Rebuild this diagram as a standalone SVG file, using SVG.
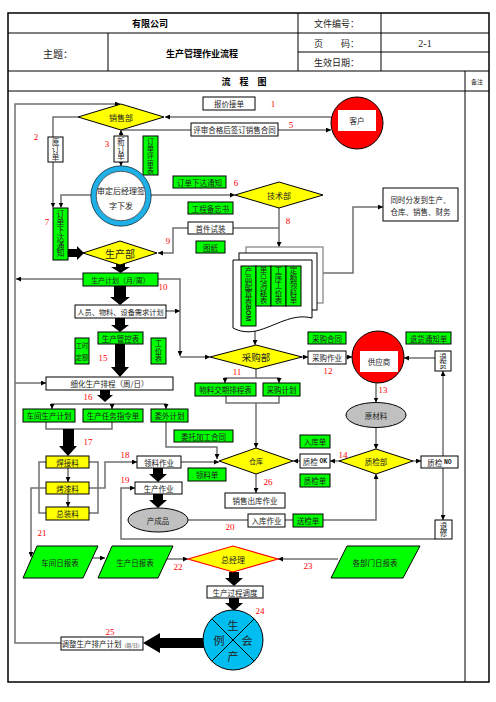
<svg xmlns="http://www.w3.org/2000/svg" width="496" height="702" viewBox="0 0 496 702">
<defs>
<marker id="ah" viewBox="0 0 8 8" refX="8" refY="4" markerWidth="5" markerHeight="5" markerUnits="userSpaceOnUse" orient="auto"><path d="M0,0 L8,4 L0,8 z" fill="#000"/></marker>
<style>
.bx{fill:#fff;stroke:#000;stroke-width:1}
.gn{fill:#00ff00;stroke:#000;stroke-width:1}
.yl{fill:#ffff00;stroke:#000;stroke-width:1}
.t{font-family:"Noto Sans CJK SC","Noto Sans",sans-serif;font-size:7.5px;fill:#222;text-anchor:middle;dominant-baseline:central}
.v{writing-mode:vertical-rl;text-orientation:upright}
.n{font-family:"Liberation Serif",serif;font-size:9px;fill:#f00;text-anchor:middle;dominant-baseline:central}
.c{fill:none;stroke:#707070;stroke-width:1.5}
.ca{fill:none;stroke:#707070;stroke-width:1.5;marker-end:url(#ah)}
.blk{fill:#000}
.h{font-family:"Noto Sans CJK SC",sans-serif;font-size:9px;fill:#222;dominant-baseline:central}
.hb{font-family:"Noto Sans CJK SC",sans-serif;font-size:9px;font-weight:bold;fill:#000;dominant-baseline:central;text-anchor:middle}
</style>
</defs>
<rect width="496" height="702" fill="#fff"/>

<g id="frame" fill="none" stroke="#000" stroke-width="1">
<rect x="8" y="13" width="481" height="669" stroke-width="1.5"/>
<line x1="8" y1="33" x2="489" y2="33"/>
<line x1="298" y1="52" x2="489" y2="52"/>
<line x1="8" y1="71" x2="489" y2="71"/>
<line x1="8" y1="91" x2="489" y2="91"/>
<line x1="108" y1="33" x2="108" y2="71"/>
<line x1="298" y1="13" x2="298" y2="71"/>
<line x1="381" y1="13" x2="381" y2="71"/>
<line x1="465" y1="71" x2="465" y2="682"/>
</g>
<g id="header-text">
<text class="hb" x="150" y="23">有限公司</text>
<text class="h" x="314" y="23">文件编号：</text>
<text class="h" x="58" y="53" style="text-anchor:middle;font-size:10px">主题：</text>
<text class="hb" x="202" y="53">生产管理作业流程</text>
<text class="h" x="314" y="43">页　　码：</text>
<text class="h" x="425" y="43" style="text-anchor:middle;font-family:'Liberation Serif',serif;font-size:10px">2-1</text>
<text class="h" x="314" y="62">生效日期：</text>
<text class="hb" x="244" y="81">流　程　图</text>
<text class="h" x="477" y="81" style="text-anchor:middle;font-size:6px">备注</text>
</g>

<g id="connectors">
<path class="ca" d="M331,117 H165"/>
<path class="ca" d="M278,130 H331"/>
<path class="c" d="M191,130 H121"/>
<path class="ca" d="M121,136 V130"/>
<path class="ca" d="M121,162 V166"/>
<path class="ca" d="M78,117 H53 V207.5"/>
<path class="ca" d="M91,195 H61 V207.5"/>
<path class="ca" d="M151,195 H235"/>
<path class="ca" d="M279,208 V247"/>
<path class="c" d="M233,228 H279"/>
<path class="ca" d="M188,228 H173 V253 H158"/>
<path class="ca" d="M323,273 H353 V207 H383"/>
<path class="ca" d="M255,331 V345"/>
<path class="ca" d="M83,279 H16"/>
<path class="ca" d="M158,279 H180 V356"/>
<path class="ca" d="M180,357 H210"/>
<path class="ca" d="M166,311 H180"/>
<path class="ca" d="M61,643 H15 V104 H120"/>
<path class="ca" d="M15,383 H46"/>
<path class="ca" d="M105,404 H52 V409"/>
<path class="ca" d="M105,404 H166 V409"/>
<path class="ca" d="M112,404 V409"/>
<path class="c" d="M46,422 V429 H112 V422"/>
<path class="ca" d="M166,422 V447 H217 V459"/>
<path class="ca" d="M181,462 H219"/>
<path class="ca" d="M256,369 V378 H225 V383"/>
<path class="ca" d="M256,378 H279 V383"/>
<path class="c" d="M226,396 V403 H279 V396"/>
<path class="ca" d="M256,403 V448"/>
<path class="ca" d="M256,474 V493"/>
<path class="ca" d="M300,461 H293"/>
<path class="ca" d="M339,461 H330"/>
<path class="ca" d="M413,461 H421"/>
<path class="ca" d="M443,456 V371"/>
<path class="ca" d="M443,468 V520"/>
<path class="ca" d="M435,358 H404"/>
<path class="ca" d="M302,357 H308"/>
<path class="ca" d="M346,357 H352"/>
<path class="ca" d="M376,383 V402.5"/>
<path class="ca" d="M376,427.5 V449"/>
<path class="ca" d="M323,520 H376 V474"/>
<path class="c" d="M188,520 H248"/>
<path class="c" d="M285,520 H293"/>
<path class="ca" d="M435,539 H121 V488 H135"/>
<path class="ca" d="M89,488 H105 V462 H137"/>
<path class="c" d="M46,462 H39 V513 H46"/>
<path class="c" d="M89,462 H98 V513 H89"/>
<path class="ca" d="M68,468 V482"/>
<path class="ca" d="M68,494 V507"/>
<path class="ca" d="M46,488 H31 V557"/>
<path class="ca" d="M92,558 H105"/>
<path class="ca" d="M167,559 H188"/>
<path class="ca" d="M338,559 H278"/>
<polygon class="blk" points="68,249 77,249 77,246 84,253 77,260 77,257 68,257"/>
<polygon class="blk" points="116,264 125,264 125,267 130,267 120.5,273 111,267 116,267"/>
<polygon class="blk" points="114,286 126,286 126,297 130,297 120,305 110,297 114,297"/>
<polygon class="blk" points="115,318 125,318 125,325 129,325 120,332 111,325 115,325"/>
<polygon class="blk" points="115,344 125,344 125,367 129,367 120,377 111,367 115,367"/>
<polygon class="blk" points="100,390 110,390 110,395 113,395 105,402 97,395 100,395"/>
<polygon class="blk" points="63,429 74,429 74,446 77,446 68,456 59,446 63,446"/>
<polygon class="blk" points="153,468 163,468 163,474 167,474 158,482 149,474 153,474"/>
<polygon class="blk" points="153,494 163,494 163,500 167,500 158,508 149,500 153,500"/>
<polygon class="blk" points="229,572 239,572 239,578 243,578 234,586 225,578 229,578"/>
<polygon class="blk" points="229,598 239,598 239,603 243,603 234,611 225,603 229,603"/>
<polygon class="blk" points="204,638 160,638 160,633 143,643 160,653 160,648 204,648"/>
</g>

<g id="numbers">
<text class="n" x="273" y="104">1</text>
<text class="n" x="36" y="137">2</text>
<text class="n" x="107" y="144">3</text>
<text class="n" x="118" y="217">4</text>
<text class="n" x="291" y="125">5</text>
<text class="n" x="236" y="183">6</text>
<text class="n" x="47" y="222">7</text>
<text class="n" x="288" y="221">8</text>
<text class="n" x="168" y="241">9</text>
<text class="n" x="163" y="287">10</text>
<text class="n" x="237" y="372">11</text>
<text class="n" x="328" y="371">12</text>
<text class="n" x="383" y="390">13</text>
<text class="n" x="343" y="455">14</text>
<text class="n" x="103" y="358">15</text>
<text class="n" x="88" y="397">16</text>
<text class="n" x="88" y="442">17</text>
<text class="n" x="125" y="455">18</text>
<text class="n" x="125" y="480">19</text>
<text class="n" x="230" y="527">20</text>
<text class="n" x="42" y="533">21</text>
<text class="n" x="178" y="567">22</text>
<text class="n" x="308" y="566">23</text>
<text class="n" x="260" y="611">24</text>
<text class="n" x="110" y="632">25</text>
<text class="n" x="268" y="482">26</text>
</g>

<g id="baojia"><rect class="bx" x="203" y="97" width="52" height="13"/><text class="t" x="229" y="103.5">报价接单</text></g>
<g id="pingshen"><rect class="bx" x="191" y="123" width="87" height="13"/><text class="t" x="234.5" y="129.5">评审合格后签订销售合同</text></g>
<g id="kehu"><circle cx="357" cy="123" r="26" fill="#ff0000" stroke="#000"/><rect x="338" y="110" width="38" height="21" fill="#fff"/><text class="t" x="357" y="120.5">客户</text></g>
<g id="xiaoshou"><polygon class="yl" points="78,117 121,104 164,117 121,130"/><text class="t" x="121" y="117" style="font-size:8px">销售部</text></g>
<g id="yuandingdan"><rect class="bx" x="48" y="137" width="15" height="25"/><text class="t v" x="55.5" y="149.5">原订单</text></g>
<g id="xindingdan"><rect class="bx" x="114" y="136" width="14" height="26"/><text class="t v" x="121" y="149">新订单</text></g>
<g id="pingshenbiao"><rect class="gn" x="143" y="136" width="15" height="39"/><text class="t v" x="150.5" y="155.5" style="font-size:7.3px">订单评审表</text></g>
<g id="shending"><circle cx="121" cy="196" r="27.5" fill="none" stroke="#1eb0e6" stroke-width="5.5"/><circle cx="121" cy="196" r="30.2" fill="none" stroke="#000" stroke-width="0.6"/><circle cx="121" cy="196" r="24.7" fill="#fff" stroke="#000" stroke-width="0.6"/><text class="t" x="121" y="190" style="font-size:8px">审定后经理签</text><text class="t" x="121" y="205" style="font-size:8px">字下发</text></g>
<g id="xiada1"><rect class="gn" x="173" y="176" width="53" height="12"/><text class="t" x="199.5" y="182">订单下达通知</text></g>
<g id="jishu"><polygon class="yl" points="235,195 279,182 323,195 279,208"/><text class="t" x="279" y="195" style="font-size:8px">技术部</text></g>
<g id="gongcheng"><rect class="gn" x="188" y="202" width="45" height="12"/><text class="t" x="210.5" y="208">工程备忘书</text></g>
<g id="shoujian"><rect class="bx" x="188" y="222" width="45" height="12"/><text class="t" x="210.5" y="228">首件试装</text></g>
<g id="tuzhi"><rect class="gn" x="196" y="241" width="29" height="12"/><text class="t" x="210.5" y="247">图纸</text></g>
<g id="tongshi"><rect class="bx" x="383" y="188" width="75" height="33"/><text class="t" x="420.5" y="199.5">同时分发到生产、</text><text class="t" x="420.5" y="211">仓库、销售、财务</text></g>
<g id="docs">
<rect x="246" y="247" width="77" height="56" fill="#fff" stroke="#808080" stroke-width="1.2"/>
<rect x="239" y="253" width="78" height="57" fill="#fff" stroke="#000" stroke-width="1"/>
<path d="M233,260 H312 V318 C292,313 276,326 256,331 C246,333 239,331 233,328 Z" fill="#fff" stroke="#000" stroke-width="1"/>
<rect class="gn" x="241" y="266" width="15" height="60"/>
<text class="t v" x="248.5" y="267" style="text-anchor:start">产品配置表<tspan style="font-family:'Liberation Sans',sans-serif;font-weight:bold;font-size:7px;text-orientation:sideways">BOM</tspan></text>
<rect class="gn" x="256" y="266" width="15" height="40"/>
<text class="t v" x="263.5" y="285.5">单只消耗表</text>
<rect class="gn" x="271" y="266" width="15" height="40"/>
<text class="t v" x="278.5" y="285.5">工序工价表</text>
<rect class="gn" x="286" y="266" width="15" height="40"/>
<text class="t v" x="293.5" y="285.5">定额领料单</text>
</g>
<g id="xiada2"><rect class="gn" x="53" y="208" width="15" height="52"/><text class="t v" x="60.5" y="234" style="font-size:7.8px">订单下达通知</text></g>
<g id="shengchanbu"><polygon class="yl" points="83,253 120,241 157,253 120,265"/><text class="t" x="120" y="253" style="font-size:10px">生产部</text></g>
<g id="jihua"><rect class="gn" x="83" y="273" width="75" height="13"/><text class="t" x="120.5" y="279.5" style="font-size:7px">生产计划（月/周）</text></g>
<g id="renyuan"><rect class="bx" x="75" y="305" width="91" height="13"/><text class="t" x="120.5" y="311.5" style="font-size:7.2px">人员、物料、设备需求计划</text></g>
<g id="guankong"><rect class="gn" x="98" y="332" width="45" height="12"/><text class="t" x="120.5" y="338">生产管控表</text></g>
<g id="gongshi"><rect class="gn" x="75" y="338" width="14" height="26"/><text class="t" x="82" y="345.5" style="font-size:6.3px">工时</text><text class="t" x="82" y="357" style="font-size:6.3px">定额</text></g>
<g id="gongjia"><rect class="gn" x="151" y="338" width="15" height="26"/><text class="t v" x="158.5" y="351">工价表</text></g>
<g id="xihua"><rect class="bx" x="46" y="377" width="127" height="13"/><text class="t" x="109.5" y="383.5">细化生产排程（周/日）</text></g>
<g id="chejianjihua"><rect class="gn" x="23" y="409" width="52" height="13"/><text class="t" x="49" y="415.5">车间生产计划</text></g>
<g id="renwu"><rect class="gn" x="83" y="409" width="60" height="13"/><text class="t" x="113" y="415.5">生产任务指令单</text></g>
<g id="weiwai"><rect class="gn" x="151" y="409" width="37" height="13"/><text class="t" x="169.5" y="415.5">委外计划</text></g>
<g id="weituo"><rect class="gn" x="174" y="430" width="59" height="12"/><text class="t" x="203.5" y="436">委托加工合同</text></g>
<g id="hanjie"><rect class="yl" x="46" y="456" width="43" height="12"/><text class="t" x="67.5" y="462">焊接料</text></g>
<g id="kaoqi"><rect class="yl" x="46" y="482" width="43" height="12"/><text class="t" x="67.5" y="488">烤漆料</text></g>
<g id="zongzhuang"><rect class="yl" x="46" y="507" width="43" height="13"/><text class="t" x="67.5" y="513.5">总装料</text></g>
<g id="lingliao"><rect class="bx" x="137" y="456" width="44" height="12"/><text class="t" x="159" y="462">领料作业</text></g>
<g id="lingliaodan"><rect class="gn" x="188" y="468" width="38" height="13"/><text class="t" x="207" y="474.5">领料单</text></g>
<g id="shengchanzuoye"><rect class="bx" x="135" y="482" width="47" height="12"/><text class="t" x="158.5" y="488">生产作业</text></g>
<g id="chanchengpin"><ellipse cx="158" cy="520" rx="30" ry="12" fill="#c0c0c0" stroke="#000"/><text class="t" x="158" y="520">产成品</text></g>
<g id="caigoubu"><polygon class="yl" points="210,357 256,345 302,357 256,369"/><text class="t" x="256" y="357" style="font-size:9.5px">采购部</text></g>
<g id="wuliao"><rect class="gn" x="195" y="383" width="61" height="13"/><text class="t" x="225.5" y="389.5">物料交期排程表</text></g>
<g id="caigoujihua"><rect class="gn" x="263" y="383" width="37" height="13"/><text class="t" x="281.5" y="389.5">采购计划</text></g>
<g id="caigouhetong"><rect class="gn" x="308" y="332" width="38" height="12"/><text class="t" x="327" y="338">采购合同</text></g>
<g id="caigouzuoye"><rect class="bx" x="308" y="351" width="38" height="13"/><text class="t" x="327" y="357.5">采购作业</text></g>
<g id="gongying"><circle cx="378" cy="357" r="26" fill="#ff0000" stroke="#000"/><rect x="360" y="351" width="38" height="21" fill="#fff"/><text class="t" x="379" y="361.5">供应商</text></g>
<g id="tuihuotongzhi"><rect class="gn" x="406" y="332" width="45" height="12"/><text class="t" x="428.5" y="338">退货通知单</text></g>
<g id="tuihuo"><rect class="bx" x="435" y="351" width="16" height="20"/><text class="t v" x="443" y="361">退货</text></g>
<g id="yuancailiao"><ellipse cx="376" cy="415" rx="30" ry="12.5" fill="#c0c0c0" stroke="#000"/><text class="t" x="376" y="415">原材料</text></g>
<g id="cangku"><polygon class="yl" points="219,461 256,448 293,461 256,474"/><text class="t" x="256" y="461" style="font-size:7px">仓库</text></g>
<g id="xiaoshouchuku"><rect class="bx" x="225" y="493" width="60" height="15"/><text class="t" x="255" y="500.5">销售出库作业</text></g>
<g id="zhijianok"><rect class="bx" x="300" y="454" width="30" height="14"/><text class="t" x="315" y="461">质检 <tspan style="font-family:'Liberation Mono',monospace;font-weight:bold;font-size:6.5px">OK</tspan></text></g>
<g id="rukudan"><rect class="gn" x="300" y="435" width="30" height="13"/><text class="t" x="315" y="441.5">入库单</text></g>
<g id="zhijiandan"><rect class="gn" x="300" y="474" width="30" height="13"/><text class="t" x="315" y="480.5">质检单</text></g>
<g id="zhijianbu"><polygon class="yl" points="339,461 376,449 413,461 376,474"/><text class="t" x="376" y="461">质检部</text></g>
<g id="zhijianno"><rect class="bx" x="421" y="456" width="37" height="12"/><text class="t" x="439.5" y="462">质检 <tspan style="font-family:'Liberation Mono',monospace;font-weight:bold;font-size:6.5px">NO</tspan></text></g>
<g id="tuixiu"><rect class="bx" x="435" y="520" width="17" height="19"/><text class="t v" x="443.5" y="529.5">退修</text></g>
<g id="rukuzuoye"><rect class="bx" x="248" y="514" width="37" height="13"/><text class="t" x="266.5" y="520.5">入库作业</text></g>
<g id="songjiandan"><rect class="gn" x="293" y="514" width="30" height="13"/><text class="t" x="308" y="520.5">送检单</text></g>
<g id="chejianribao"><polygon class="gn" points="37,546 98,546 83,578 23,578"/><text class="t" x="60" y="562">车间日报表</text></g>
<g id="shengchanribao"><polygon class="gn" points="112,546 173,546 158,578 98,578"/><text class="t" x="135" y="562">生产日报表</text></g>
<g id="zongjingli"><polygon points="188,559 233,546 278,559 233,572" fill="#ffff00" stroke="#ff0000" stroke-width="1.2"/><text class="t" x="233" y="559" style="font-size:8px">总经理</text></g>
<g id="gebumen"><polygon class="gn" points="347,546 420,546 403,578 331,578"/><text class="t" x="375" y="562">各部门日报表</text></g>
<g id="diaodu"><rect class="bx" x="207" y="586" width="56" height="12"/><text class="t" x="235" y="592">生产过程调度</text></g>
<g id="lihui"><circle cx="233" cy="640" r="30" fill="#00bff0" stroke="#000"/><line x1="211.8" y1="618.8" x2="254.2" y2="661.2" stroke="#000"/><line x1="254.2" y1="618.8" x2="211.8" y2="661.2" stroke="#000"/><text class="t" x="233" y="625" style="font-size:11px">生</text><text class="t" x="247" y="640" style="font-size:11px">会</text><text class="t" x="233" y="656" style="font-size:11px">产</text><text class="t" x="219" y="640" style="font-size:11px">例</text></g>
<g id="tiaozheng"><rect class="bx" x="61" y="637" width="82" height="13"/><text class="t" x="102" y="643.5">调整生产排产计划<tspan style="font-size:4.8px">（周/日）</tspan></text></g>
</svg>
